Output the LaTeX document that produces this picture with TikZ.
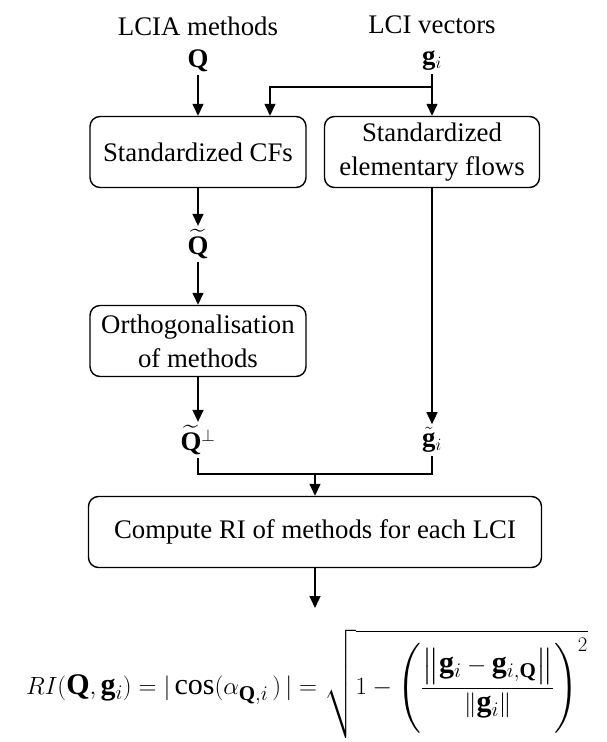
\documentclass[tikz,border=0pt]{standalone}
\usepackage{amsmath,amssymb}
\usepackage{fontspec}
\setmainfont{Liberation Serif}
\usetikzlibrary{arrows.meta}

\begin{document}
\begin{tikzpicture}[x=1pt,y=-1pt,
  font=\fontsize{26.8}{34}\selectfont,
  stepbox/.style={draw,line width=1.4pt,rounded corners=10pt,minimum height=71pt,align=center,inner sep=0pt},
  lbl/.style={inner sep=3pt},
  arr/.style={line width=1.4pt,-{Triangle[length=12pt,width=11pt]}},
  ln/.style={line width=1.4pt}]
  \useasboundingbox (0,0) rectangle (606,742);
  % inputs
  \node[lbl] (lcia) at (198,26) {LCIA methods};
  \node[lbl] (lci) at (432,25) {LCI vectors};
  \node[lbl] (Q) at (198,61) {$\mathbf{Q}$};
  \node[lbl] (g) at (432,61) {$\mathbf{g}_i$};
  % steps
  \node[stepbox,minimum width=216pt] (cfs) at (198,152) {Standardized CFs};
  \node[stepbox,minimum width=215pt] (flows) at (432,152) {Standardized\\elementary flows};
  \node[lbl] (Qt) at (198,244) {$\widetilde{\mathbf{Q}}$};
  \node[stepbox,minimum width=216pt] (orth) at (198,341) {Orthogonalisation\\of methods};
  \node[lbl] (Qp) at (198,440) {$\widetilde{\mathbf{Q}}^{\perp}$};
  \node[lbl] (gt) at (432,440) {$\tilde{\mathbf{g}}_i$};
  \node[stepbox,minimum width=453pt] (ri) at (315,532) {Compute RI of methods for each LCI};
  \coordinate (br) at (432,87);
  \coordinate (jn) at (315,474);
  \coordinate (out) at (315,608);
  % connectors
  \draw[arr] (Q) -- (cfs);
  \draw[arr] (g) -- (flows);
  \draw[arr] (br) -| ([xshift=72pt]cfs.north);
  \draw[arr] (cfs) -- (Qt);
  \draw[arr] (Qt) -- (orth);
  \draw[arr] (orth) -- (Qp);
  \draw[arr] (flows) -- (gt);
  \draw[ln] (Qp) |- (jn) -| (gt);
  \draw[arr] (jn) -- (ri);
  \draw[arr] (ri) -- (out);
  % result
  \node[lbl,font=\fontsize{30}{36}\selectfont] (eq) at (307,684) {$RI(\mathbf{Q},\mathbf{g}_i) = |\cos(\alpha_{\mathbf{Q},i}\,)\,| = \sqrt{1-\left(\dfrac{\left\|\mathbf{g}_i-\mathbf{g}_{i,\mathbf{Q}}\right\|}{\left\|\mathbf{g}_i\right\|}\right)^{2}}$};
\end{tikzpicture}
\end{document}
